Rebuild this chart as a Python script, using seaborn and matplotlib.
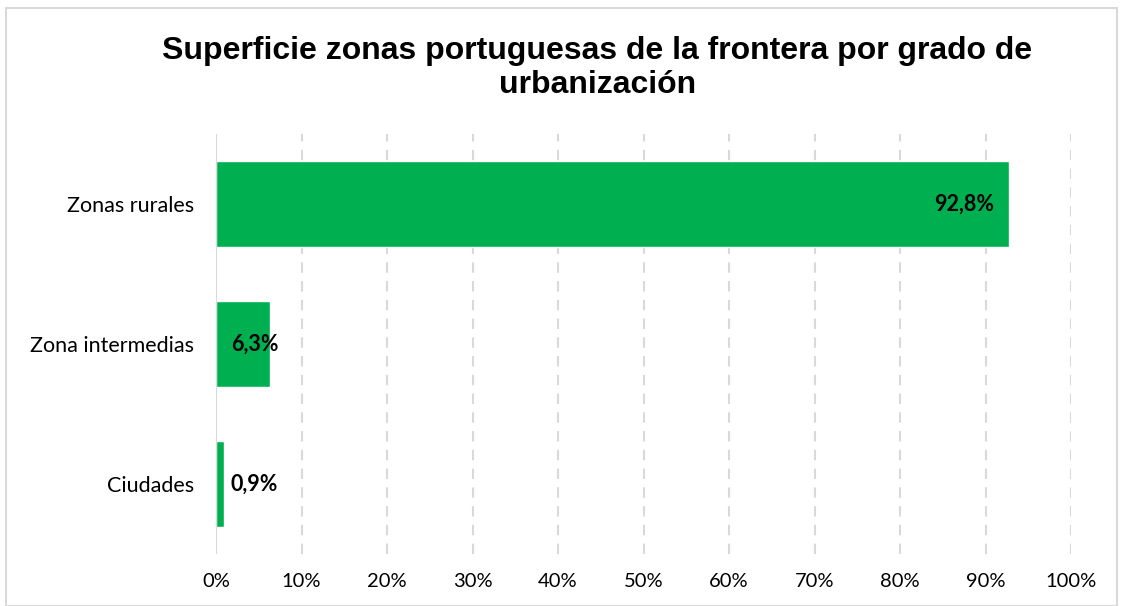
import seaborn as sns
import matplotlib.pyplot as plt
from matplotlib.patches import Rectangle

# data
categorias = ['Zonas rurales', 'Zona intermedias', 'Ciudades']
valores = [92.8, 6.3, 0.9]
etiquetas = ['92,8%', '6,3%', '0,9%']
ticks = [0, 10, 20, 30, 40, 50, 60, 70, 80, 90, 100]
tick_labels = [f'{t}%' for t in ticks]

sns.set_theme(style="white")
plt.rcParams['font.family'] = ['Lato', 'DejaVu Sans']

fig = plt.figure(figsize=(11.23, 6.06), dpi=100)
ax = fig.add_axes([216/1123, 1-554/606, (1071-216)/1123, 420/606])

sns.barplot(x=valores, y=categorias, color='#00B050', width=0.62,
            saturation=1, orient='h', ax=ax)

ax.set_xlim(0, 100)
ax.set_ylim(2.5, -0.5)
ax.set_xticks(ticks)
ax.set_xticklabels(tick_labels, fontsize=14.5, color='black')
ax.tick_params(axis='x', pad=14, length=0)
ax.tick_params(axis='y', pad=16, length=0, labelsize=15.5, labelcolor='black')
ax.set_xlabel('')
ax.set_ylabel('')

# grid
for t in ticks[1:]:
    ax.axvline(t, color='#d9d9d9', lw=1.5, ls=(0, (5, 4)), zorder=0)
ax.axvline(0, color='#d9d9d9', lw=1.5, zorder=3)
for s in ax.spines.values():
    s.set_visible(False)

# value labels
for i, (v, lab) in enumerate(zip(valores, etiquetas)):
    if v > 10:
        ax.text(v - 1.8, i, lab, ha='right', va='center', fontsize=15.5,
                fontweight='bold', color='black')
    else:
        ax.text(1.75, i, lab, ha='left', va='center', fontsize=15.5,
                fontweight='bold', color='black')

fig.text(0.532, 1-68/606, 'Superficie zonas portuguesas de la frontera por grado de\nurbanización',
         ha='center', va='center', fontsize=23, fontweight='bold', color='black',
         family='Liberation Sans', linespacing=1.2)

# outer border
fig.patches.append(Rectangle((6/1123, 0), 1-12/1123, 1-8/606, transform=fig.transFigure,
                             fill=False, edgecolor='#d9d9d9', lw=1.5))

plt.savefig('out.png', dpi=100)
